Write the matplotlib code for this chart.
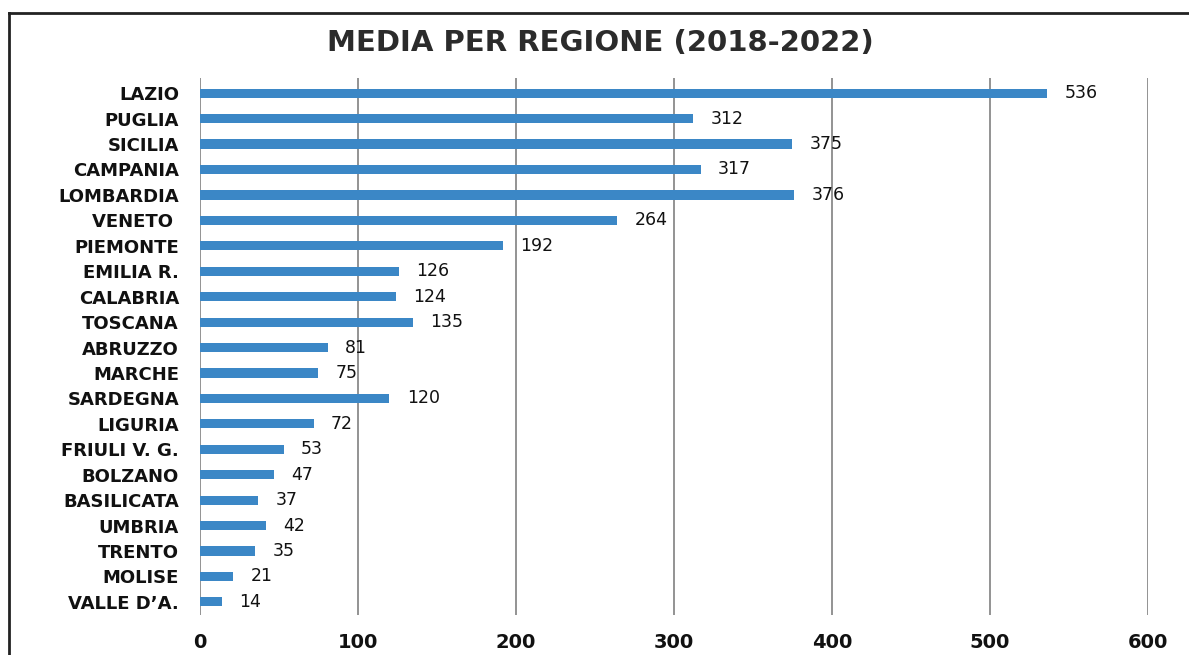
import matplotlib
matplotlib.use("Agg")
from matplotlib import pyplot as plt
from matplotlib.lines import Line2D

# data
regions = ["LAZIO", "PUGLIA", "SICILIA", "CAMPANIA", "LOMBARDIA", "VENETO ",
           "PIEMONTE", "EMILIA R.", "CALABRIA", "TOSCANA", "ABRUZZO", "MARCHE",
           "SARDEGNA", "LIGURIA", "FRIULI V. G.", "BOLZANO", "BASILICATA",
           "UMBRIA", "TRENTO", "MOLISE", "VALLE D\u2019A."]
media = [536, 312, 375, 317, 376, 264, 192, 126, 124, 135, 81, 75, 120, 72,
         53, 47, 37, 42, 35, 21, 14]
ticks = [0, 100, 200, 300, 400, 500, 600]

plt.rcParams['font.family'] = ['DejaVu Sans']

fig = plt.figure(figsize=(11.89, 6.55), dpi=100)
ax = fig.add_axes([0.168, 0.061, 0.7975, 0.82])

pos = list(range(len(regions)))
ax.barh(pos, media, height=0.36, color='#3b87c6', zorder=3)

for p, v in zip(pos, media):
    ax.text(v + 11, p, str(v), va='center', ha='left', fontsize=12.5,
            color='#111111', zorder=4)

ax.set_xlim(0, 600)
ax.set_ylim(20.52, -0.6)
ax.set_yticks(pos)
ax.set_yticklabels(regions, fontsize=13, fontweight='bold', color='#111111')
ax.set_xticks(ticks)
ax.set_xticklabels([str(t) for t in ticks], fontsize=14, fontweight='bold',
                   color='#111111')
ax.tick_params(axis='both', length=0)
ax.tick_params(axis='y', pad=15)
ax.tick_params(axis='x', pad=13)

ax.grid(axis='x', color='#8a8a8a', linewidth=1.3, zorder=0)
for s in ax.spines.values():
    s.set_visible(False)

fig.suptitle('MEDIA PER REGIONE (2018-2022)', x=0.505, y=0.955,
             fontsize=21, fontweight='bold', color='#2b2b2b')

# outer frame of the scanned chart (top and left edges)
fig.add_artist(Line2D([0.0075, 1.0], [0.98, 0.98], transform=fig.transFigure,
                      color='#222222', linewidth=2))
fig.add_artist(Line2D([0.0075, 0.0075], [0.0, 0.98], transform=fig.transFigure,
                      color='#222222', linewidth=2))

fig.savefig('out.png', dpi=100)
